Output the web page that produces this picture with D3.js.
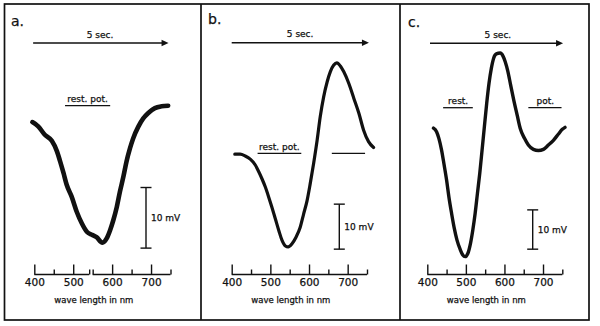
<!DOCTYPE html>
<html>
<head>
<meta charset="utf-8">
<script src="https://cdn.jsdelivr.net/npm/d3@7"></script>
<style>
  body { margin: 0; background: #fff; }
  text { font-family: "DejaVu Sans", sans-serif; fill: #111; stroke: #111; stroke-width: 0.25px; }
</style>
</head>
<body>
<div id="chart"></div>
<script>
// wave length (nm) and potential relative to resting level (mV)
var waveA = [395,410,427,445,458,466,475,483,496,509,522,535,548,560,575,586,595,603,612,620,629,637,646,654,667,680,693,710,727,744];
var mvA   = [-2.7,-3.4,-4.8,-5.8,-7.5,-9.1,-11.1,-13.0,-15.0,-17.5,-19.4,-20.8,-21.3,-21.7,-22.6,-21.9,-20.5,-18.9,-16.7,-14.2,-11.7,-9.2,-7.0,-5.4,-3.5,-2.1,-1.2,-0.4,-0.1,0];

var waveB = [408,422,435,448,461,470,478,487,496,504,513,522,530,539,546,556,566,577,586,595,603,612,621,629,638,647,655,664,672,681,690,703,716,729,741,754,767];
var mvB   = [-0.2,-0.2,-0.6,-1.3,-2.6,-4.1,-5.6,-7.5,-9.8,-12.0,-14.6,-17.2,-19.3,-20.6,-20.8,-20.1,-18.7,-16.5,-13.5,-10.5,-6.8,-2.2,2.9,8.1,12.6,15.9,18.1,19.6,20.1,19.4,18.1,15.5,12.2,8.9,5.2,2.6,1.3];

var waveC = [416,424,430,437,443,450,456,463,470,477,485,492,498,505,512,518,524,530,536,542,548,554,560,566,572,579,589,596,602,609,616,624,633,641,652,662,675,688,701,714,727,740,750,757];
var mvC   = [-5.2,-6.1,-7.8,-10.8,-14.2,-18.4,-22.7,-26.9,-30.7,-33.7,-36.0,-37.5,-37.9,-37.1,-34.5,-31.1,-26.9,-21.8,-16.7,-10.8,-4.8,1.1,6.2,10.0,12.6,13.7,13.9,13.2,11.7,9.2,5.8,2.0,-1.9,-5.3,-7.8,-9.5,-10.6,-10.9,-10.6,-9.5,-8.3,-6.7,-5.5,-5.0];

var panelLabels = ["a.", "b.", "c."];
var majorTicks = [400, 500, 600, 700];
var minorTicks = [450, 550, 650, 750];
var timeLabel = "5 sec.";
var barLabel = "10 mV";
var axisTitle = "wave length in nm";

// page layout for each panel (pixels, or nm / mV where a scale is used)
var layout = [
  { wave: waveA, mv: mvA, x0: 34.3, x1: 170.5, restY: 105.7, px10: 60.6, trace: 4.6,
    tag: [11, 26], arrow: [397, 745], arrowY: 43, secAt: 569,
    rest: [[479, 595]], restText: [["rest. pot.", 537]],
    barX: 146, barTop: -13.5, axisSegs: [[400, 541], [550, 750]] },
  { wave: waveB, mv: mvB, x0: 231.7, x1: 367.0, restY: 153.3, px10: 45, trace: 3.2,
    tag: [208, 24], arrow: [400, 755], arrowY: 42.7, secAt: 577,
    rest: [[467, 580], [659, 745]], restText: [["rest. pot.", 523]],
    barX: 339.3, barTop: -11.3, axisSegs: [[400, 750]] },
  { wave: waveC, mv: mvC, x0: 427.3, x1: 562.3, restY: 107.7, px10: 39.3, trace: 3.4,
    tag: [408, 27], arrow: [407, 752], arrowY: 43.3, secAt: 583,
    rest: [[441, 518], [662, 748]], restText: [["rest.", 480], ["pot.", 706]],
    barX: 532.7, barTop: -26, axisSegs: [[400, 750]] }
];

var width = 600, height = 326, axisY = 274.5;

var svg = d3.select("#chart").append("svg")
    .attr("width", width)
    .attr("height", height);

svg.append("rect").attr("width", width).attr("height", height).attr("fill", "#fff");

// frame and panel dividers
svg.append("rect")
    .attr("x", 4.5).attr("y", 4)
    .attr("width", 584.5).attr("height", 316)
    .attr("fill", "none").attr("stroke", "#111").attr("stroke-width", 1.7);
[201, 400].forEach(function(xx) {
  svg.append("line").attr("x1", xx).attr("x2", xx).attr("y1", 4).attr("y2", 320)
      .attr("stroke", "#111").attr("stroke-width", 1.7);
});

layout.forEach(function(p, i) {
  var g = svg.append("g");
  var x = d3.scaleLinear().domain([400, 750]).range([p.x0, p.x1]);
  var y = d3.scaleLinear().domain([0, -10]).range([p.restY, p.restY + p.px10]);

  g.append("text")
      .attr("x", p.tag[0]).attr("y", p.tag[1])
      .style("font-size", "14px")
      .text(panelLabels[i]);

  // time arrow
  var ax0 = x(p.arrow[0]), ax1 = x(p.arrow[1]);
  g.append("line")
      .attr("x1", ax0).attr("x2", ax1 - 5)
      .attr("y1", p.arrowY).attr("y2", p.arrowY)
      .attr("stroke", "#111").attr("stroke-width", 1.4);
  g.append("path")
      .attr("d", "M" + ax1 + "," + p.arrowY + "L" + (ax1 - 7) + "," + (p.arrowY - 3.2) +
                 "L" + (ax1 - 7) + "," + (p.arrowY + 3.2) + "Z")
      .attr("fill", "#111");
  g.append("text")
      .attr("x", x(p.secAt)).attr("y", p.arrowY - 5.5)
      .attr("text-anchor", "middle")
      .style("font-size", "9px")
      .text(timeLabel);

  // resting potential marks
  p.rest.forEach(function(s) {
    g.append("line")
        .attr("x1", x(s[0])).attr("x2", x(s[1]))
        .attr("y1", y(0)).attr("y2", y(0))
        .attr("stroke", "#111").attr("stroke-width", 1.3);
  });
  p.restText.forEach(function(t) {
    g.append("text")
        .attr("x", x(t[1])).attr("y", y(0) - 3.5)
        .attr("text-anchor", "middle")
        .style("font-size", "9px")
        .text(t[0]);
  });

  // trace
  var pts = d3.zip(p.wave, p.mv);
  var line = d3.line()
      .x(function(d) { return x(d[0]); })
      .y(function(d) { return y(d[1]); })
      .curve(d3.curveMonotoneX);
  g.append("path")
      .datum(pts)
      .attr("d", line)
      .attr("fill", "none")
      .attr("stroke", "#111")
      .attr("stroke-width", p.trace)
      .attr("stroke-linecap", "round")
      .attr("stroke-linejoin", "round");

  // 10 mV scale bar
  var bt = y(p.barTop), bb = y(p.barTop - 10);
  g.append("line").attr("x1", p.barX).attr("x2", p.barX).attr("y1", bt).attr("y2", bb)
      .attr("stroke", "#111").attr("stroke-width", 1.4);
  [bt, bb].forEach(function(yy) {
    g.append("line").attr("x1", p.barX - 5.5).attr("x2", p.barX + 5.5).attr("y1", yy).attr("y2", yy)
        .attr("stroke", "#111").attr("stroke-width", 1.4);
  });
  g.append("text")
      .attr("x", p.barX + 5).attr("y", (bt + bb) / 2 + 3.5)
      .style("font-size", "9px")
      .text(barLabel);

  // wavelength axis
  var axG = g.append("g").attr("transform", "translate(0," + axisY + ")");
  p.axisSegs.forEach(function(s) {
    axG.append("line").attr("x1", x(s[0])).attr("x2", x(s[1])).attr("y1", 0).attr("y2", 0)
        .attr("stroke", "#111").attr("stroke-width", 1.4);
  });
  var extra = [];
  p.axisSegs.forEach(function(s) {
    s.forEach(function(v) {
      if (majorTicks.indexOf(v) < 0 && minorTicks.indexOf(v) < 0) extra.push(v);
    });
  });
  var major = axG.append("g").call(d3.axisBottom(x)
      .tickValues(majorTicks).tickSize(-10).tickPadding(4).tickFormat(d3.format("d")));
  var minor = axG.append("g").call(d3.axisBottom(x)
      .tickValues(minorTicks.concat(extra)).tickSize(-5).tickFormat(""));
  [major, minor].forEach(function(a) {
    a.select(".domain").remove();
    a.selectAll(".tick line").attr("stroke", "#111").attr("stroke-width", 1.4);
  });
  major.selectAll(".tick text")
      .attr("fill", "#111")
      .style("font-family", "DejaVu Sans, sans-serif")
      .style("font-size", "10.5px");

  g.append("text")
      .attr("x", x(553)).attr("y", 303)
      .attr("text-anchor", "middle")
      .style("font-size", "8.5px")
      .text(axisTitle);
});
</script>
</body>
</html>
